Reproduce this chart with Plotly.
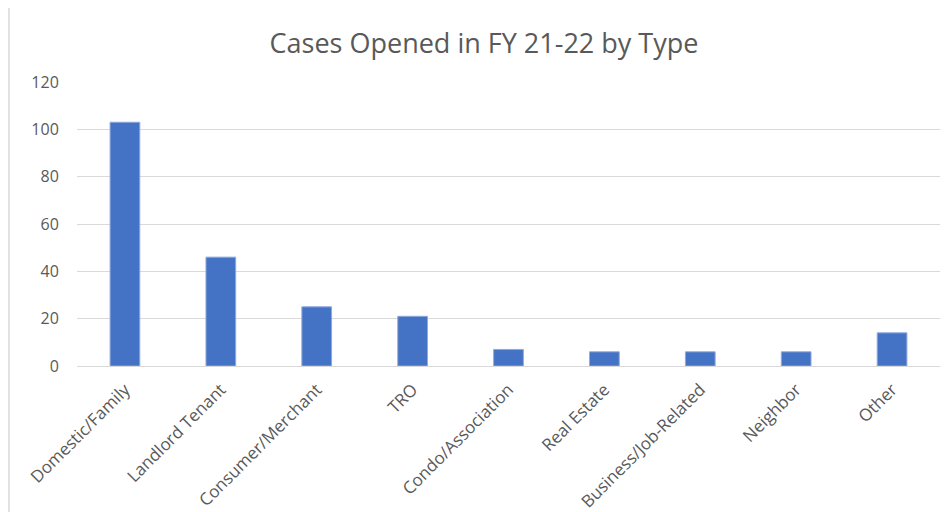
import plotly.graph_objects as go

categories = ["Domestic/Family", "Landlord Tenant", "Consumer/Merchant", "TRO",
              "Condo/Association", "Real Estate", "Business/Job-Related", "Neighbor", "Other"]
cases = [103, 46, 25, 21, 7, 6, 6, 6, 14]
y_ticks = [0, 20, 40, 60, 80, 100, 120]

fig = go.Figure(go.Bar(
    x=categories, y=cases,
    marker=dict(color="#4472C4", line=dict(color="#8FAADC", width=1)),
))

# page adds an 8px body margin; figure is sized to the visible area
OFF = 8
W, H = 951 - OFF, 512 - OFF
ml = 77 - OFF
mt = 82 - OFF
plot_right = 940 - OFF
plot_bottom = 366 - OFF
mr = W - plot_right
mb = H - plot_bottom
pw, ph = W - ml - mr, H - mt - mb

def px_x(sx):
    return (sx - OFF - ml) / pw

def px_y(sy):
    return (plot_bottom - (sy - OFF)) / ph

fig.update_layout(
    width=W, height=H,
    margin=dict(l=ml, r=mr, t=mt, b=mb, autoexpand=False),
    paper_bgcolor="white", plot_bgcolor="white",
    bargap=0.69,
    showlegend=False,
    title=dict(text="Cases Opened in FY 21-22 by Type", x=(484 - OFF) / W, xanchor="center",
               y=1 - (44 - OFF) / H, yanchor="middle",
               font=dict(family="Open Sans", size=27, color="#595959")),
    font=dict(family="Open Sans", color="#595959"),
    xaxis=dict(tickangle=-45, tickfont=dict(size=17, color="#595959"), automargin=False,
               showline=True, linecolor="#D9D9D9", linewidth=1,
               ticks="outside", ticklen=6, tickcolor="rgba(0,0,0,0)"),
    yaxis=dict(range=[0, 120], tickvals=y_ticks, showgrid=True, gridcolor="#D9D9D9",
               gridwidth=1, zeroline=False, ticks="outside", ticklen=14, automargin=False,
               tickcolor="rgba(0,0,0,0)",
               tickfont=dict(size=16, color="#595959")),
    shapes=[dict(type="line", xref="paper", yref="paper",
                 x0=px_x(9), x1=px_x(9),
                 y0=px_y(530), y1=px_y(8),
                 line=dict(color="#D9D9D9", width=1.5), layer="below")],
)

fig.write_html("out.html")
